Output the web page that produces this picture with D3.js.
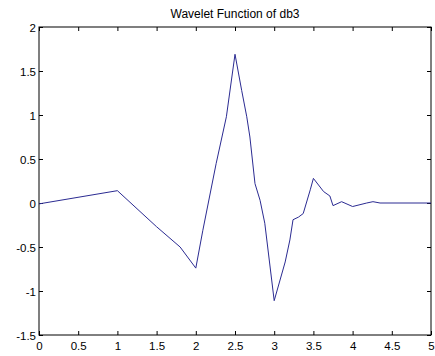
<!DOCTYPE html>
<html>
<head>
<meta charset="utf-8">
<script src="https://cdn.jsdelivr.net/npm/d3@7"></script>
<style>
  html, body { margin: 0; padding: 0; background: #fff; }
  svg { display: block; }
  text { font-family: "Liberation Sans", Arial, sans-serif; fill: #000; }
</style>
</head>
<body>
<svg id="chart" width="435" height="356"></svg>
<script>
// db3 wavelet function psi(t), sampled vertices
const tValues = [0, 1, 1.5, 1.8, 2, 2.09, 2.26, 2.39, 2.5, 2.585, 2.65, 2.69, 2.755, 2.82, 2.88, 3,
  3.14, 3.2, 3.24, 3.31, 3.37, 3.46, 3.5, 3.63, 3.71, 3.75, 3.86, 4, 4.18, 4.26, 4.35, 5];
const psiValues = [-0.01, 0.14, -0.27, -0.5, -0.74, -0.31, 0.45, 0.98, 1.69, 1.28, 0.98, 0.75, 0.22, 0.03, -0.23, -1.11,
  -0.67, -0.42, -0.19, -0.16, -0.12, 0.15, 0.28, 0.13, 0.08, -0.03, 0.015, -0.04, 0.0, 0.015, 0.0, 0.0];
const xTicks = [0, 0.5, 1, 1.5, 2, 2.5, 3, 3.5, 4, 4.5, 5];
const yTicks = [-1.5, -1, -0.5, 0, 0.5, 1, 1.5, 2];
const titleText = "Wavelet Function of db3";

const svg = d3.select("#chart");
const plotLeft = 39, plotRight = 431, plotTop = 27, plotBottom = 335;

const x = d3.scaleLinear().domain([0, 5]).range([plotLeft, plotRight]);
const y = d3.scaleLinear().domain([-1.5, 2]).range([plotBottom, plotTop]);

const fmt = d => String(d);
const tickLen = 4;

// axes with inward ticks on all four sides
svg.append("g").attr("transform", `translate(0,${plotBottom})`)
  .call(d3.axisBottom(x).tickValues(xTicks).tickFormat(fmt).tickSizeInner(-tickLen).tickSizeOuter(0))
  .call(g => g.selectAll("text").attr("font-size", 11.5).attr("y", 5).attr("dy", "0.9em"));
svg.append("g").attr("transform", `translate(0,${plotTop})`)
  .call(d3.axisTop(x).tickValues(xTicks).tickFormat("").tickSizeInner(-tickLen).tickSizeOuter(0));
svg.append("g").attr("transform", `translate(${plotLeft},0)`)
  .call(d3.axisLeft(y).tickValues(yTicks).tickFormat(fmt).tickSizeInner(-tickLen).tickSizeOuter(0))
  .call(g => g.selectAll("text").attr("font-size", 11.5).attr("dy", "0.4em").attr("x", -3));
svg.append("g").attr("transform", `translate(${plotRight},0)`)
  .call(d3.axisRight(y).tickValues(yTicks).tickFormat("").tickSizeInner(-tickLen).tickSizeOuter(0));

svg.selectAll(".domain").remove();
svg.selectAll(".tick line").attr("stroke", "#000");

// box frame
svg.append("rect")
  .attr("x", plotLeft).attr("y", plotTop)
  .attr("width", plotRight - plotLeft).attr("height", plotBottom - plotTop)
  .attr("fill", "none").attr("stroke", "#000").attr("stroke-width", 1);

// wavelet curve
const line = d3.line().x((d, i) => x(tValues[i])).y(d => y(d));
svg.append("path")
  .datum(psiValues)
  .attr("d", line)
  .attr("fill", "none")
  .attr("stroke", "#2b2b92")
  .attr("stroke-width", 1);

// title
svg.append("text")
  .attr("x", (plotLeft + plotRight) / 2)
  .attr("y", 18)
  .attr("text-anchor", "middle")
  .attr("font-size", 12)
  .text(titleText);
</script>
</body>
</html>
